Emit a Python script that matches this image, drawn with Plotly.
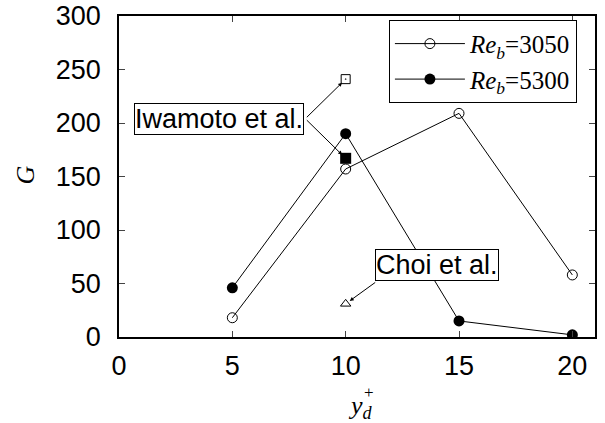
import plotly.graph_objects as go

# Data
yd = [5, 10, 15, 20]
G_3050 = [18, 157, 209, 58]
G_5300 = [46, 190, 15, 2]
iwamoto_x = [10, 10]
iwamoto_open = [241]
iwamoto_filled = [167]
choi_x = [10]
choi_G = [31]
x_ticks = [0, 5, 10, 15, 20]
y_ticks = [0, 50, 100, 150, 200, 250, 300]

sans = "Liberation Sans, Arial, sans-serif"
serif = "Liberation Serif, Times New Roman, serif"

fig = go.Figure()
fig.add_trace(go.Scatter(
    x=yd, y=G_3050, mode="lines+markers", name="<i>Re</i><sub><i>b</i></sub>=3050",
    line=dict(color="black", width=1),
    marker=dict(symbol="circle-open", size=10, color="black", line=dict(width=1))))
fig.add_trace(go.Scatter(
    x=yd, y=G_5300, mode="lines+markers", name="<i>Re</i><sub><i>b</i></sub>=5300",
    line=dict(color="black", width=1),
    marker=dict(symbol="circle", size=11, color="black")))
fig.add_trace(go.Scatter(
    x=iwamoto_x[:1], y=iwamoto_open, mode="markers", showlegend=False,
    marker=dict(symbol="square-open-dot", size=9, color="black", line=dict(width=1))))
fig.add_trace(go.Scatter(
    x=iwamoto_x[1:], y=iwamoto_filled, mode="markers", showlegend=False,
    marker=dict(symbol="square", size=11, color="black")))
fig.add_trace(go.Scatter(
    x=choi_x, y=choi_G, mode="markers", showlegend=False,
    marker=dict(symbol="triangle-up-open", size=9, color="black", line=dict(width=1))))

# Label positions (layout)
iw_label = (4.41, 204)
iw_anchor = (8.22, 204)
choi_label = (14.05, 67)
choi_anchor = (11.37, 52)

fig.add_annotation(x=iw_label[0], y=iw_label[1], text="Iwamoto et al.", showarrow=False,
                   font=dict(family=sans, size=27, color="black"),
                   bordercolor="black", borderwidth=1, borderpad=0, bgcolor="white")
for yy in iwamoto_open + iwamoto_filled:
    fig.add_annotation(x=iwamoto_x[0], y=yy, ax=iw_anchor[0], ay=iw_anchor[1],
                       axref="x", ayref="y", text="", showarrow=True,
                       arrowhead=2, arrowsize=0.8, arrowwidth=1, arrowcolor="black", standoff=5)
fig.add_annotation(x=choi_label[0], y=choi_label[1], text="Choi et al.", showarrow=False,
                   font=dict(family=sans, size=27, color="black"),
                   bordercolor="black", borderwidth=1, borderpad=0, bgcolor="white")
fig.add_annotation(x=choi_x[0], y=choi_G[0], ax=choi_anchor[0], ay=choi_anchor[1],
                   axref="x", ayref="y", text="", showarrow=True,
                   arrowhead=2, arrowsize=0.8, arrowwidth=1, arrowcolor="black", standoff=5)

# Axis titles
fig.add_annotation(xref="paper", yref="paper", x=0, y=0.5, xshift=-94, yshift=1,
                   xanchor="center", yanchor="middle", text="<i>G</i>",
                   showarrow=False, textangle=-90, font=dict(family=serif, size=26, color="black"))
fig.add_annotation(xref="paper", yref="paper", x=0.486, y=0, yshift=-70, xshift=10,
                   xanchor="center", yanchor="middle",
                   text="<i>y</i><sub><i>d</i></sub>",
                   showarrow=False, font=dict(family=serif, size=26, color="black"))
fig.add_annotation(xref="paper", yref="paper", x=0.486, y=0, yshift=-55, xshift=19,
                   xanchor="center", yanchor="middle", text="+",
                   showarrow=False, font=dict(family=serif, size=17, color="black"))

fig.update_layout(
    width=605, height=423,
    margin=dict(l=119, r=10, t=16, b=86, autoexpand=False),
    paper_bgcolor="white", plot_bgcolor="white",
    font=dict(family=sans, size=27, color="black"),
    showlegend=True,
    legend=dict(x=0.962, y=0.988, xanchor="right", yanchor="top",
                bordercolor="black", borderwidth=1, bgcolor="white",
                font=dict(family=serif, size=25, color="black"),
                tracegroupgap=0, itemwidth=70),
    xaxis=dict(range=[0, 21], tickvals=x_ticks, ticks="inside", ticklen=6,
               showline=True, linecolor="black", linewidth=1.5, mirror="ticks",
               showgrid=False, zeroline=False, automargin=False, ticklabelstandoff=4),
    yaxis=dict(range=[0, 300], tickvals=y_ticks, ticks="inside", ticklen=6,
               showline=True, linecolor="black", linewidth=1.5, mirror="ticks",
               showgrid=False, zeroline=False, automargin=False, ticklabelstandoff=11),
)

fig.write_html("out.html", config={"displayModeBar": False},
               post_script="document.body.style.margin='0px';")
